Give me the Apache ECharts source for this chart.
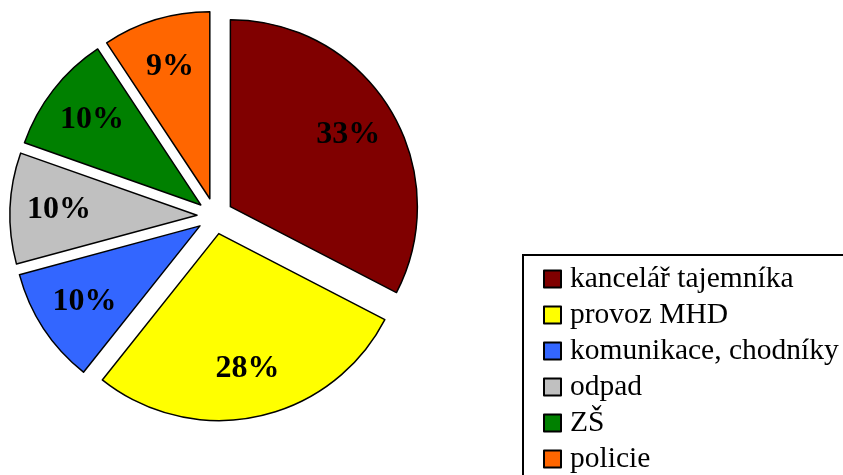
<!DOCTYPE html>
<html>
<head>
<meta charset="utf-8">
<script src="https://cdn.jsdelivr.net/npm/echarts@6/dist/echarts.min.js"></script>
<style>
  html, body { margin: 0; padding: 0; background: #fff; }
  #chart { width: 843px; height: 475px; }
</style>
</head>
<body>
<div id="chart"></div>
<script>
// podíly výdajů (%)
const categories = ['kancelář tajemníka', 'provoz MHD', 'komunikace, chodníky', 'odpad', 'ZŠ', 'policie']
const values = [32.6, 28.1, 10.1, 9.6, 10.3, 9.3]
const colors = ['#800000', '#FFFF00', '#3366FF', '#C0C0C0', '#008000', '#FF6600']

const chart = echarts.init(document.getElementById('chart'))

const pieData = categories.map((name, i) => ({
  name: name,
  value: values[i],
  selected: true, // vysunuté výseče
  itemStyle: { color: colors[i] }
}))

const common = {
  type: 'pie',
  center: [215, 216],
  startAngle: 90,
  clockwise: true,
  selectedMode: 'multiple',
  selectedOffset: 18,
  avoidLabelOverlap: false,
  animation: false,
  emphasis: { disabled: true },
  labelLine: { show: false }
}

const option = {
  backgroundColor: '#fff',
  legend: {
    orient: 'vertical',
    left: 523,
    top: 255,
    height: 260, // ať se legenda nezalomí do druhého sloupce
    padding: [9, 40, 20, 20],
    borderColor: '#000',
    borderWidth: 2,
    backgroundColor: '#fff',
    icon: 'rect',
    itemWidth: 17,
    itemHeight: 17,
    itemGap: 6,
    selectedMode: false,
    data: categories,
    textStyle: {
      fontFamily: 'Liberation Serif',
      fontSize: 29.5,
      lineHeight: 29.5,
      color: '#000',
      padding: [0, 0, 0, 4]
    }
  },
  series: [
    Object.assign({}, common, {
      name: 'výdaje',
      radius: 187,
      label: { show: false },
      itemStyle: { borderColor: '#000', borderWidth: 1.5 },
      data: pieData
    }),
    // jen popisky, posunuté dál od středu
    Object.assign({}, common, {
      name: 'popisky',
      radius: [83, 187],
      silent: true,
      itemStyle: { color: 'rgba(0,0,0,0)', borderWidth: 0 },
      label: {
        show: true,
        position: 'inside',
        fontFamily: 'Liberation Serif',
        fontWeight: 'bold',
        fontSize: 32,
        color: '#000',
        formatter: p => Math.round(p.percent) + '%'
      },
      data: categories.map((name, i) => ({ name: name, value: values[i], selected: true }))
    })
  ]
}

chart.setOption(option)
</script>
</body>
</html>
